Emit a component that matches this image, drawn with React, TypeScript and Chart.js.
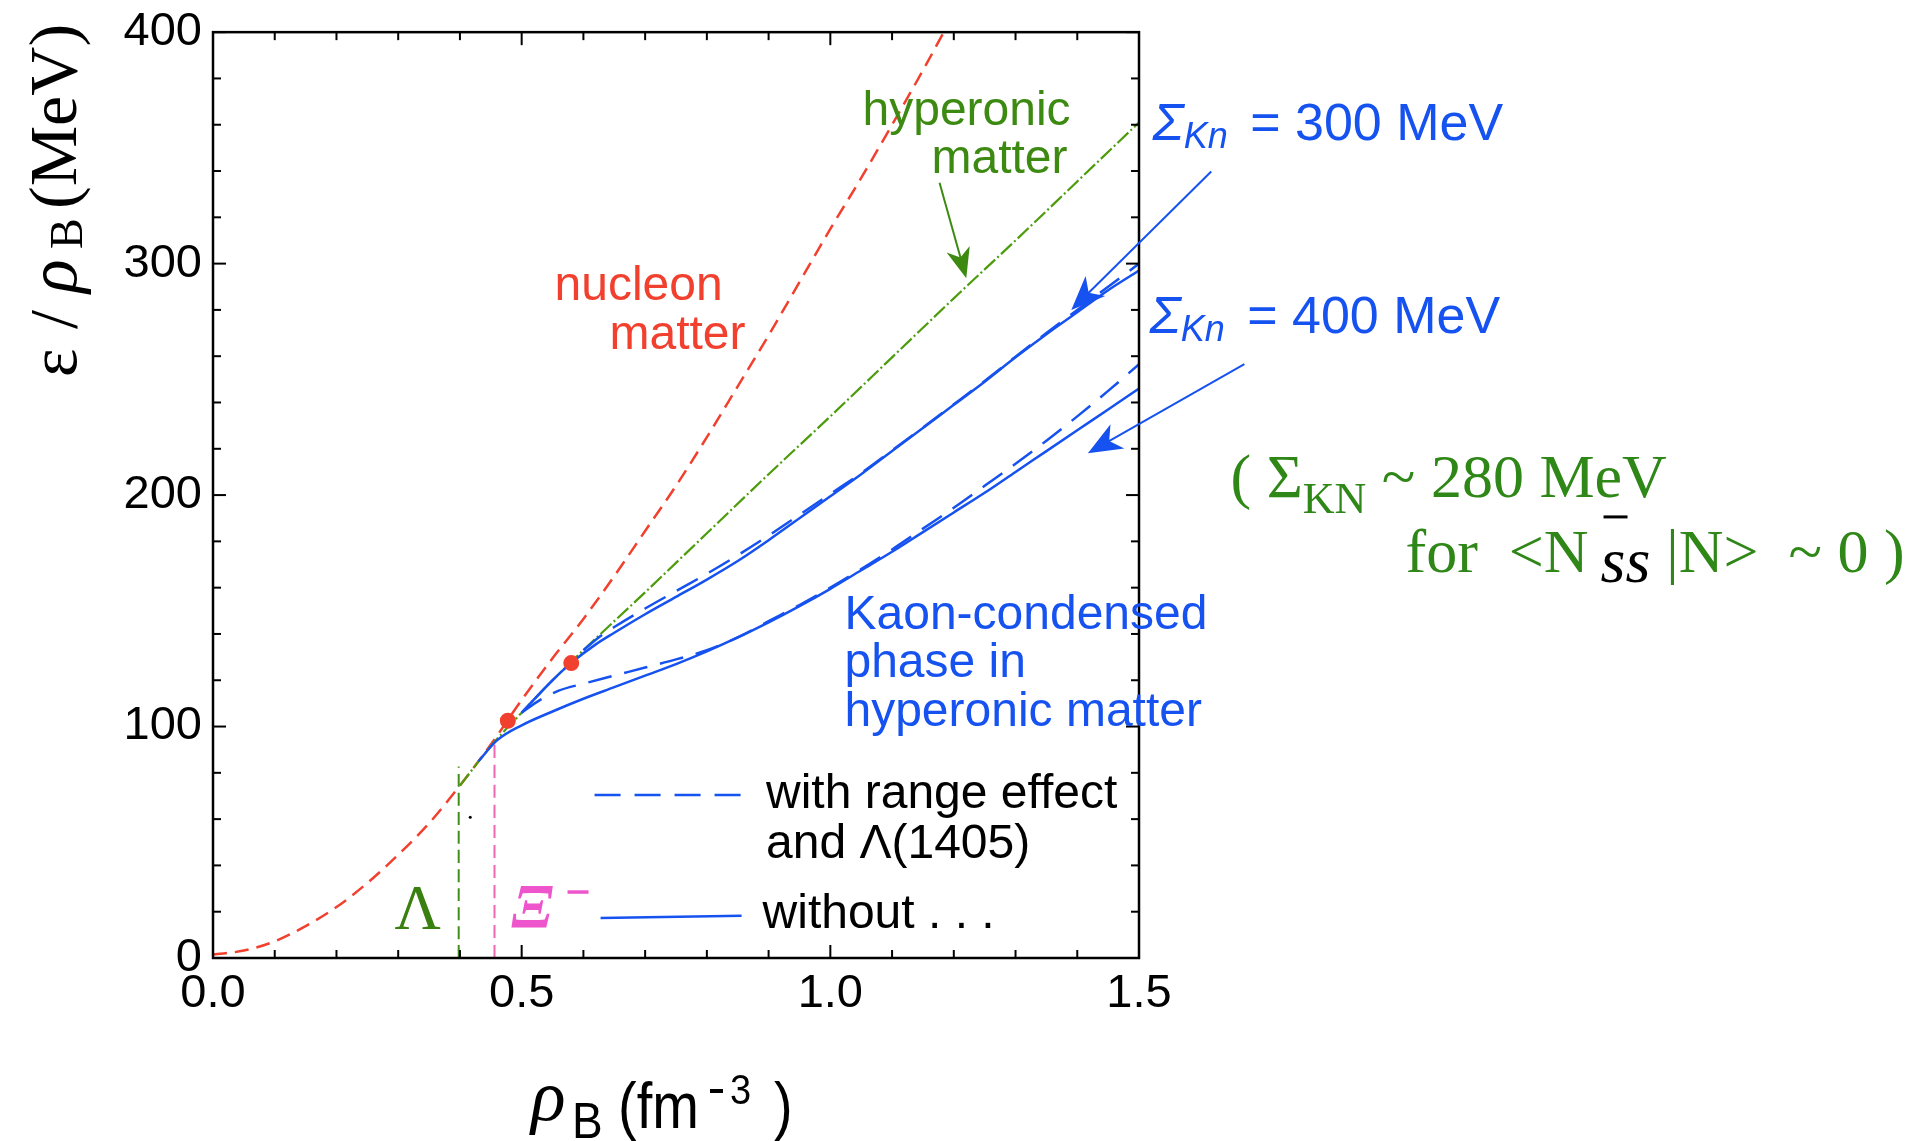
import { useEffect, useRef } from 'react';
import { Chart, registerables } from 'chart.js';

Chart.register(...registerables);

// ---------- data ----------
const nucleonX = [0, 0.05, 0.1, 0.15, 0.2, 0.25, 0.3, 0.35, 0.4, 0.45, 0.5, 0.55, 0.6, 0.65, 0.7, 0.75, 0.8, 0.85, 0.9, 0.95, 1.0, 1.05, 1.1, 1.15, 1.2];
const nucleonY = [1.5, 3.2, 7.2, 13.8, 22, 32.4, 44.6, 58.2, 74.5, 92.2, 111.5, 129.5, 146.5, 165, 184.5, 204, 225, 247, 269, 292, 315, 337, 360, 383.5, 408];

const hyperonicX = [0.40, 0.45, 0.5, 0.55, 0.6, 0.7, 0.8, 0.9, 1.0, 1.1, 1.2, 1.3, 1.4, 1.5];
const hyperonicY = [74.5, 91.5, 106, 120, 133, 158, 183.5, 209, 234, 259.5, 285, 310, 335.5, 361];

const kaon300WithoutX = [0.5, 0.55, 0.58, 0.62, 0.65, 0.7, 0.75, 0.8, 0.85, 0.9, 0.95, 1.0, 1.05, 1.1, 1.15, 1.2, 1.25, 1.3, 1.35, 1.4, 1.45, 1.5];
const kaon300WithoutY = [106, 120, 127.4, 135.5, 140.5, 148.5, 156, 163.5, 171.5, 180.5, 190, 199.5, 209, 219, 229, 239, 249, 259.5, 269.5, 279, 288.5, 297];

const kaon300RangeX = [0.6, 0.63, 0.65, 0.7, 0.75, 0.8, 0.85, 0.9, 0.95, 1.0, 1.05, 1.1, 1.15, 1.2, 1.25, 1.3, 1.35, 1.4, 1.45, 1.5];
const kaon300RangeY = [133, 139.5, 143, 151, 158.5, 166, 174, 182.5, 191.5, 200.5, 209.5, 219.3, 229.2, 239.2, 249.3, 259.8, 270, 280, 290, 300];

const kaon400WithoutX = [0.43, 0.46, 0.5, 0.55, 0.6, 0.65, 0.7, 0.75, 0.8, 0.85, 0.9, 0.95, 1.0, 1.05, 1.1, 1.15, 1.2, 1.25, 1.3, 1.35, 1.4, 1.45, 1.5];
const kaon400WithoutY = [85, 94, 100.5, 106.5, 112, 117, 122, 127, 132.5, 138.5, 145, 152, 159.5, 167.5, 175.5, 184, 192.5, 201, 210, 219, 228, 237, 246];

const kaon400RangeX = [0.5, 0.53, 0.56, 0.6, 0.65, 0.7, 0.75, 0.8, 0.85, 0.9, 0.95, 1.0, 1.05, 1.1, 1.15, 1.2, 1.25, 1.3, 1.35, 1.4, 1.45, 1.5];
const kaon400RangeY = [106, 111.5, 115.5, 118.5, 122, 125.5, 129, 133, 138.5, 145.5, 152.5, 160, 168, 176.5, 185.5, 194.5, 204, 213.5, 223.5, 234, 245, 256.5];

const onsetDotX = [0.4776, 0.5803];
const onsetDotY = [102.5, 127.4];

const lambdaLineX = [0.398, 0.398];
const lambdaLineY = [0, 82.7];
const xiLineX = [0.456, 0.456];
const xiLineY = [0, 92.8];

// ticks
const xMajorTicks = [0, 0.5, 1.0, 1.5];
const xMinorTicks = [0.1, 0.2, 0.3, 0.4, 0.6, 0.7, 0.8, 0.9, 1.1, 1.2, 1.3, 1.4];
const yMajorTicks = [0, 100, 200, 300, 400];
const yMinorTicks = [20, 40, 60, 80, 120, 140, 160, 180, 220, 240, 260, 280, 320, 340, 360, 380];

// ---------- styles ----------
const BLUE = '#1652f0';
const RED = '#f2402f';
const GREEN_LINE = '#4c9c0c';
const GREEN_TEXT = '#3d8a12';
const SERIF_GREEN = '#2e8716';
const PINK_LINE = '#ef68b0';
const PINK_TEXT = '#ee55cc';
const SANS = '"Liberation Sans", Arial, Helvetica, sans-serif';
const SERIF = '"Liberation Serif", "Times New Roman", Times, serif';

const pts = (xs: number[], ys: number[]) => xs.map((x, i) => ({ x, y: ys[i] }));

function txt(ctx: CanvasRenderingContext2D, s: string, x: number, y: number, font: string, color: string, sy = 1) {
  ctx.save();
  ctx.font = font;
  ctx.fillStyle = color;
  ctx.textAlign = 'left';
  ctx.textBaseline = 'alphabetic';
  ctx.translate(x, y);
  ctx.scale(1, sy);
  ctx.fillText(s, 0, 0);
  ctx.restore();
}

type Seg = { t: string; f: string; c: string; dx?: number; dy?: number };
function seq(ctx: CanvasRenderingContext2D, x: number, y: number, segs: Seg[], sy = 1) {
  let cx = x;
  const starts: number[] = [];
  for (const s of segs) {
    cx += s.dx || 0;
    starts.push(cx);
    txt(ctx, s.t, cx, y + (s.dy || 0), s.f, s.c, sy);
    ctx.save();
    ctx.font = s.f;
    cx += ctx.measureText(s.t).width;
    ctx.restore();
  }
  return starts;
}

function arrow(ctx: CanvasRenderingContext2D, x1: number, y1: number, x2: number, y2: number, color: string, lw: number, L: number, W: number) {
  const a = Math.atan2(y2 - y1, x2 - x1);
  const cx = Math.cos(a), sn = Math.sin(a);
  ctx.save();
  ctx.strokeStyle = color;
  ctx.fillStyle = color;
  ctx.lineWidth = lw;
  ctx.setLineDash([]);
  ctx.beginPath();
  ctx.moveTo(x1, y1);
  ctx.lineTo(x2 - 0.7 * L * cx, y2 - 0.7 * L * sn);
  ctx.stroke();
  ctx.beginPath();
  ctx.moveTo(x2, y2);
  ctx.lineTo(x2 - L * cx - (W / 2) * sn, y2 - L * sn + (W / 2) * cx);
  ctx.lineTo(x2 - 0.72 * L * cx, y2 - 0.72 * L * sn);
  ctx.lineTo(x2 - L * cx + (W / 2) * sn, y2 - L * sn - (W / 2) * cx);
  ctx.closePath();
  ctx.fill();
  ctx.restore();
}

const decor = {
  id: 'decor',
  afterDraw(chart: any) {
    const ctx: CanvasRenderingContext2D = chart.ctx;
    const xs = chart.scales.x;
    const ys = chart.scales.y;
    const X = (v: number) => xs.getPixelForValue(v);
    const Y = (v: number) => ys.getPixelForValue(v);
    const { left, right, top, bottom } = chart.chartArea;

    ctx.save();
    // frame
    ctx.strokeStyle = '#000';
    ctx.lineWidth = 2.5;
    ctx.setLineDash([]);
    ctx.strokeRect(left, top, right - left, bottom - top);
    // inward ticks on all sides
    ctx.lineWidth = 2;
    const line = (a: number, b: number, c: number, d: number) => {
      ctx.beginPath(); ctx.moveTo(a, b); ctx.lineTo(c, d); ctx.stroke();
    };
    for (const v of xMajorTicks) { const p = X(v); line(p, bottom, p, bottom - 13); line(p, top, p, top + 13); }
    for (const v of xMinorTicks) { const p = X(v); line(p, bottom, p, bottom - 8); line(p, top, p, top + 8); }
    for (const v of yMajorTicks) { const p = Y(v); line(left, p, left + 13, p); line(right, p, right - 13, p); }
    for (const v of yMinorTicks) { const p = Y(v); line(left, p, left + 8, p); line(right, p, right - 8, p); }

    // stray dot
    ctx.fillStyle = '#000';
    ctx.beginPath(); ctx.arc(X(0.4167), Y(60.8), 1.5, 0, Math.PI * 2); ctx.fill();

    // nucleon matter label
    txt(ctx, 'nucleon', X(0.5532), Y(284.4), `48px ${SANS}`, RED);
    txt(ctx, 'matter', X(0.6423), Y(263.2), `48px ${SANS}`, RED);

    // hyperonic matter label + arrow
    txt(ctx, 'hyperonic', X(1.0521), Y(360.0), `48px ${SANS}`, GREEN_TEXT);
    txt(ctx, 'matter', X(1.1639), Y(339.2), `48px ${SANS}`, GREEN_TEXT);
    arrow(ctx, X(1.1769), Y(334.9), X(1.2202), Y(293.7), GREEN_TEXT, 2, 30, 24);

    // kaon-condensed label
    txt(ctx, 'Kaon-condensed', X(1.0229), Y(142.2), `48px ${SANS}`, BLUE);
    txt(ctx, 'phase in', X(1.0229), Y(121.2), `48px ${SANS}`, BLUE);
    txt(ctx, 'hyperonic matter', X(1.0229), Y(100.3), `48px ${SANS}`, BLUE);

    // Sigma labels
    const sig = (vx: number, vy: number, val: string) =>
      seq(ctx, X(vx), Y(vy), [
        { t: 'Σ', f: `italic 52px ${SANS}`, c: BLUE },
        { t: 'Kn', f: `italic 36px ${SANS}`, c: BLUE, dy: 8 },
        { t: ' = ' + val + ' MeV', f: `52px ${SANS}`, c: BLUE, dx: 8 },
      ]);
    sig(1.5219, 353.5, '300');
    sig(1.5170, 270.1, '400');
    arrow(ctx, X(1.6170), Y(339.8), X(1.3903), Y(280.0), BLUE, 2, 34, 28);
    arrow(ctx, X(1.6707), Y(256.6), X(1.4172), Y(218.1), BLUE, 2, 34, 28);

    // serif note
    seq(ctx, X(1.6483), Y(199.2), [
      { t: '( Σ', f: `62px ${SERIF}`, c: SERIF_GREEN },
      { t: 'KN', f: `44px ${SERIF}`, c: SERIF_GREEN, dy: 16 },
      { t: ' ~ 280 MeV', f: `62px ${SERIF}`, c: SERIF_GREEN },
    ]);
    const l2 = seq(ctx, X(1.9317), Y(166.8), [
      { t: 'for  <N', f: `62px ${SERIF}`, c: SERIF_GREEN },
      { t: 'ss', f: `italic 64px ${SERIF}`, c: '#000', dx: 12, dy: 10 },
      { t: '|N>', f: `62px ${SERIF}`, c: SERIF_GREEN, dx: 16, },
      { t: '~ 0 )', f: `62px ${SERIF}`, c: SERIF_GREEN, dx: 30 },
    ]);
    ctx.strokeStyle = '#000';
    ctx.lineWidth = 3;
    line(l2[1] + 3, Y(166.8) - 55, l2[1] + 27, Y(166.8) - 55);

    // in-plot legend
    ctx.strokeStyle = BLUE;
    ctx.lineWidth = 2.5;
    ctx.setLineDash([26, 14]);
    line(X(0.6181), Y(70.4), X(0.8611), Y(70.4));
    ctx.setLineDash([]);
    line(X(0.6278), Y(17.3), X(0.8562), Y(18.2));
    txt(ctx, 'with range effect', X(0.8958), Y(64.8), `48px ${SANS}`, '#000');
    txt(ctx, 'and Λ(1405)', X(0.8958), Y(43.2), `48px ${SANS}`, '#000');
    txt(ctx, 'without . . .', X(0.8902), Y(13.0), `48px ${SANS}`, '#000');

    // Lambda / Xi labels
    txt(ctx, 'Λ', X(0.294), Y(12.5), `64px ${SERIF}`, '#3a8010');
    txt(ctx, 'Ξ', X(0.4831), Y(13.0), `italic bold 64px ${SERIF}`, PINK_TEXT);
    ctx.strokeStyle = PINK_TEXT;
    ctx.lineWidth = 3.5;
    line(X(0.5743), Y(28.5), X(0.6083), Y(28.5));

    // y-axis title (rotated)
    ctx.save();
    ctx.translate(76, 377);
    ctx.rotate(-Math.PI / 2);
    txt(ctx, 'ε', 0, 0, `68px ${SERIF}`, '#000');
    txt(ctx, '/', 48, 0, `68px ${SERIF}`, '#000');
    txt(ctx, 'ρ', 84, 0, `italic 70px ${SERIF}`, '#000');
    txt(ctx, 'B', 128, 6, `46px ${SERIF}`, '#000');
    txt(ctx, '(MeV)', 168, 0, `68px ${SERIF}`, '#000');
    ctx.restore();

    // x-axis title
    txt(ctx, 'ρ', 531, 1120, `italic 72px ${SERIF}`, '#000');
    txt(ctx, 'B', 572, 1138, `46px ${SANS}`, '#000', 1.1);
    txt(ctx, '(fm', 618, 1128, `56px ${SANS}`, '#000', 1.15);
    ctx.strokeStyle = '#000';
    ctx.lineWidth = 4;
    line(710, 1091, 723, 1091);
    txt(ctx, '3', 730, 1104, `38px ${SANS}`, '#000', 1.1);
    txt(ctx, ')', 774, 1128, `56px ${SANS}`, '#000', 1.15);

    ctx.restore();
  },
};

export default function App() {
  const ref = useRef<HTMLCanvasElement | null>(null);
  useEffect(() => {
    if (!ref.current) return;
    const lineDs = (data: any, color: string, dash: number[], width: number, order: number) => ({
      data, showLine: true, borderColor: color, borderDash: dash, borderWidth: width,
      pointRadius: 0, fill: false, order, cubicInterpolationMode: 'monotone' as const,
    });
    const chart = new Chart(ref.current, {
      type: 'scatter',
      data: {
        datasets: [
          { data: pts(onsetDotX, onsetDotY), showLine: false, pointRadius: 8, pointHoverRadius: 8, pointBackgroundColor: RED, pointBorderColor: RED, pointBorderWidth: 0, order: 0 } as any,
          lineDs(pts(kaon300WithoutX, kaon300WithoutY), BLUE, [], 2.5, 1),
          lineDs(pts(kaon300RangeX, kaon300RangeY), BLUE, [24, 13], 2.5, 1),
          lineDs(pts(kaon400WithoutX, kaon400WithoutY), BLUE, [], 2.5, 1),
          lineDs(pts(kaon400RangeX, kaon400RangeY), BLUE, [24, 13], 2.5, 1),
          lineDs(pts(hyperonicX, hyperonicY), GREEN_LINE, [15, 3, 2, 3], 2.2, 2),
          lineDs(pts(nucleonX, nucleonY), RED, [14, 8], 2.5, 3),
          lineDs(pts(lambdaLineX, lambdaLineY), '#3f8f17', [13, 6], 2, 4),
          lineDs(pts(xiLineX, xiLineY), PINK_LINE, [13, 7], 2, 4),
        ],
      },
      options: {
        animation: false,
        responsive: false,
        maintainAspectRatio: false,
        layout: { padding: { left: 0, right: 784, top: 32, bottom: 0 } },
        plugins: { legend: { display: false }, tooltip: { enabled: false } },
        scales: {
          x: {
            type: 'linear', min: 0, max: 1.5,
            grid: { display: false, drawTicks: false },
            border: { display: false },
            ticks: {
              stepSize: 0.5, padding: 8, color: '#000',
              font: { family: SANS, size: 47 },
              callback: (v: any) => Number(v).toFixed(1),
            },
            afterFit: (s: any) => { s.height = 183; },
          },
          y: {
            type: 'linear', min: 0, max: 400,
            grid: { display: false, drawTicks: false },
            border: { display: false },
            ticks: {
              stepSize: 100, padding: 11, color: '#000',
              font: { family: SANS, size: 47, lineHeight: 0.9 },
            },
            afterFit: (s: any) => { s.width = 213; },
          },
        },
      },
      plugins: [decor],
    });
    return () => chart.destroy();
  }, []);
  return (
    <div style={{ position: 'absolute', left: 0, top: 0, width: 1923, height: 1141, background: '#fff' }}>
      <canvas ref={ref} width={1923} height={1141} style={{ display: 'block' }} />
    </div>
  );
}
